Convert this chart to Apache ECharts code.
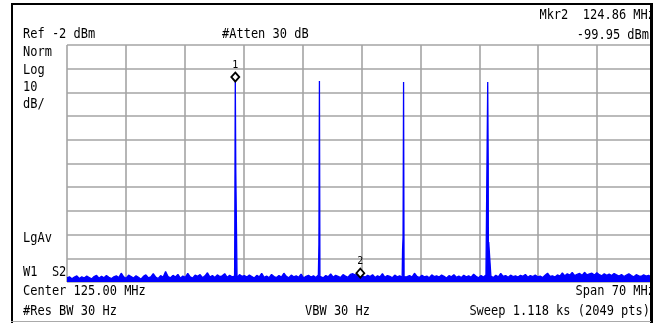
<!DOCTYPE html>
<html>
<head>
<meta charset="utf-8">
<script src="https://cdn.jsdelivr.net/npm/echarts@6/dist/echarts.min.js"></script>
<style>
  html, body { margin: 0; padding: 0; background: #fff; }
  #chart { width: 660px; height: 323px; }
</style>
</head>
<body>
<div id="chart"></div>
<script>
// sweep settings (MHz / dBm)
const sweepStart = 90
const sweepStop = 160
const refLevel = -2
const bottomLevel = -102

// noise floor, evenly spaced from start to stop
const noiseLevels = [
  -100.2,-99.8,-100.6,-99.9,-99.4,-100.5,-99.8,-100.3,-99.5,-100.1,-100.7,-99.7,-99.2,-100.4,-99.6,-100.2,-99.3,-100.0,-100.6,-99.8,
  -99.4,-100.1,-98.3,-99.8,-100.4,-99.1,-99.7,-100.3,-99.4,-100.0,-100.8,-99.6,-99.0,-100.2,-99.8,-98.5,-99.9,-100.5,-99.3,-100.0,
  -97.6,-99.7,-100.2,-99.2,-99.9,-98.8,-100.4,-99.5,-100.0,-98.4,-99.8,-100.3,-99.1,-99.6,-98.9,-100.2,-99.4,-98.1,-99.9,-99.3,
  -100.1,-99.0,-99.7,-99.4,-98.5,-100.0,-99.2,-99.8,-99.5,-100.2,-98.9,-99.6,-99.3,-99.9,-99.1,-99.7,-100.3,-99.2,-99.8,-98.4,
  -100.0,-99.5,-100.2,-98.8,-99.7,-100.1,-99.3,-99.9,-98.3,-99.6,-100.2,-99.1,-99.8,-99.4,-100.0,-98.7,-100.3,-99.6,-99.2,-99.9,
  -99.4,-100.1,-99.0,-99.7,-100.2,-99.3,-99.8,-98.6,-100.0,-99.2,-99.6,-100.1,-98.9,-99.5,-100.0,-98.8,-98.5,-99.1,-98.2,-99.0,
  -99.5,-99.9,-99.2,-99.7,-98.9,-100.1,-99.4,-99.8,-98.5,-100.0,-99.3,-99.6,-100.2,-99.1,-99.8,-99.4,-100.0,-99.0,-99.7,-99.3,
  -99.9,-98.3,-99.6,-100.1,-99.2,-99.8,-99.5,-100.2,-99.0,-99.7,-99.4,-99.9,-99.1,-99.6,-100.3,-99.3,-99.8,-98.9,-100.0,-99.5,
  -100.1,-99.2,-99.8,-99.4,-100.0,-98.7,-99.6,-100.2,-99.3,-99.9,-99.0,-99.7,-99.5,-100.1,-99.2,-99.8,-98.4,-99.6,-99.3,-100.0,
  -99.1,-99.7,-99.4,-99.9,-99.2,-99.6,-98.8,-100.0,-99.3,-99.7,-99.1,-99.8,-99.5,-100.1,-99.2,-98.3,-99.6,-99.4,-99.9,-99.0,
  -99.5,-98.2,-99.4,-98.5,-99.1,-98.0,-99.3,-98.8,-98.4,-99.2,-97.9,-99.0,-98.6,-98.3,-99.1,-98.1,-98.9,-99.4,-98.5,-99.2,
  -98.7,-99.3,-98.4,-99.0,-99.5,-98.8,-99.7,-99.1,-98.5,-99.3,-99.8,-98.9,-99.4,-99.6,-99.0,-99.5,-99.2,-99.9,-99.3,-99.5
]

// carriers: frequency / level pairs around each tone
const peakFreqs = [
  109.94, 110.0, 110.06,
  119.94, 120.0, 120.06,
  129.88, 129.94, 130.0, 130.06,
  139.94, 140.0, 140.06, 140.12
]
const peakLevels = [
  -82.2, -15.1, -55.0,
  -86.0, -17.2, -99.6,
  -88.5, -83.0, -17.6, -99.8,
  -99.5, -17.6, -51.8, -85.1
]

// markers
const markerFreqs = [110.0, 124.86]
const markerLevels = [-15.1, -99.95]
const markerNames = ['1', '2']

let trace = noiseLevels.map((v, i) => [sweepStart + i * (sweepStop - sweepStart) / (noiseLevels.length - 1), v])
peakFreqs.forEach((f, i) => trace.push([f, peakLevels[i]]))
trace.sort((a, b) => a[0] - b[0])

const font = '12px "DejaVu Sans Mono"'
function label(text, x, y, align){
  return {
    type: 'text', x: x, y: y, scaleY: 1.2, z: 10,
    style: { text: text, x: 0, y: 0, font: font, fill: '#000', align: align || 'left', verticalAlign: 'middle' }
  }
}
function edge(x1, y1, x2, y2, w, c){
  return { type: 'line', z: 20, shape: { x1: x1, y1: y1, x2: x2, y2: y2 }, style: { stroke: c, lineWidth: w } }
}

const chart = echarts.init(document.getElementById('chart'), null, { renderer: 'canvas' })

const gridAxis = {
  type: 'value', min: 0, max: 10, interval: 1,
  axisLine: { show: false }, axisTick: { show: false }, axisLabel: { show: false },
  splitLine: { show: true, lineStyle: { color: '#a4a4a4', width: 1.6 } }
}

let option = {
  animation: false,
  backgroundColor: '#fff',
  grid: { left: 67, top: 45, width: 589, height: 237 },
  xAxis: [
    gridAxis,
    { type: 'value', min: sweepStart, max: sweepStop, show: false }
  ],
  yAxis: [
    gridAxis,
    { type: 'value', min: bottomLevel, max: refLevel, show: false }
  ],
  graphic: [
    label('Ref -2 dBm', 23, 34),
    label('#Atten 30 dB', 222, 34),
    label('Mkr2  124.86 MHz', 655, 15, 'right'),
    label('-99.95 dBm', 649, 35, 'right'),
    label('Norm', 23, 52),
    label('Log', 23, 70),
    label('10', 23, 87),
    label('dB/', 23, 104),
    label('LgAv', 23, 238),
    label('W1  S2', 23, 272),
    label('Center 125.00 MHz', 23, 291),
    label('Span 70 MHz', 655, 291, 'right'),
    label('#Res BW 30 Hz', 23, 311),
    label('VBW 30 Hz', 305, 311),
    label('Sweep 1.118 ks (2049 pts)', 650, 311, 'right'),
    { type: 'rect', z: 15, shape: { x: 653, y: 0, width: 7, height: 323 }, style: { fill: '#fff' } },
    edge(11, 4, 653, 4, 2, '#000'),
    edge(12, 3, 12, 323, 2, '#000'),
    edge(651.5, 3, 651.5, 323, 3, '#000'),
    edge(11, 321.5, 651, 321.5, 1, '#aaa')
  ],
  series: [
    {
      type: 'line',
      xAxisIndex: 1,
      yAxisIndex: 1,
      data: trace,
      showSymbol: false,
      sampling: null,
      lineStyle: { color: '#0000ff', width: 1.3 },
      areaStyle: { color: '#0000ff', opacity: 1, origin: 'start' },
      markPoint: {
        symbol: 'diamond',
        symbolSize: [8, 9],
        itemStyle: { color: '#fff', borderColor: '#000', borderWidth: 1.8 },
        label: {
          show: true, position: 'top', distance: 1,
          color: '#000', fontSize: 10, fontFamily: 'DejaVu Sans Mono',
          formatter: (p) => p.name
        },
        data: markerFreqs.map((f, i) => ({
          name: markerNames[i],
          coord: [f, markerLevels[i]],
          symbolOffset: [0, i == 0 ? 1 : -4]
        }))
      }
    }
  ]
}

chart.setOption(option)
</script>
</body>
</html>
